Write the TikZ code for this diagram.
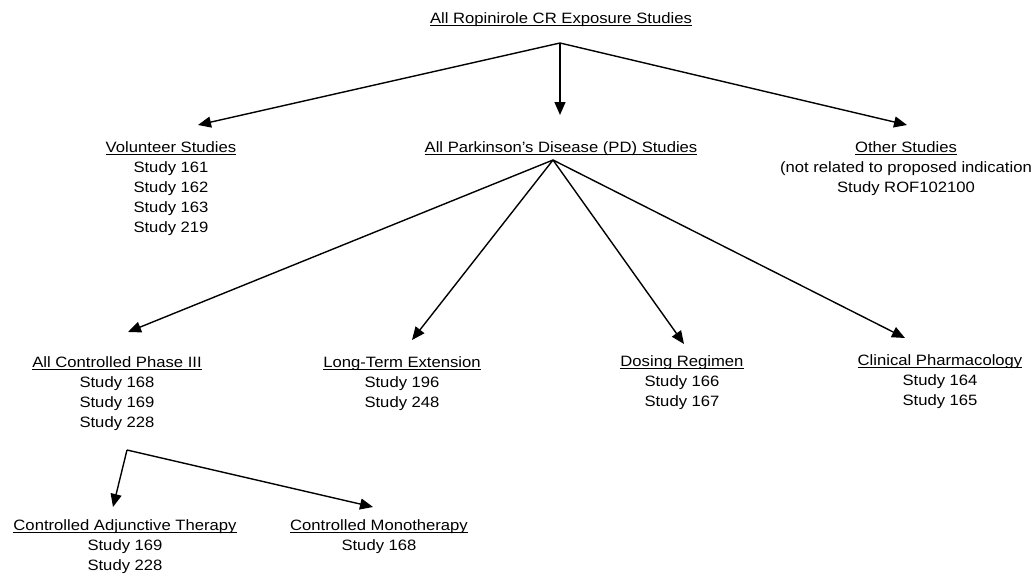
\documentclass[tikz,border=0pt]{standalone}
\usepackage{fontspec}
\setmainfont[FakeStretch=1.11]{Liberation Sans}
\usetikzlibrary{arrows.meta}
\newcommand\hdr[1]{\setbox0\hbox{#1}\rlap{\vrule width\wd0 height -1.6pt depth 2.6pt}\box0}
\begin{document}
\begin{tikzpicture}[x=1pt,y=-1pt,
  blk/.style={anchor=north,align=center,inner sep=0pt,font=\fontsize{15}{20}\selectfont},
  arr/.style={-{Triangle[length=13pt,width=11pt]},line width=1.4pt}]
\useasboundingbox[fill=white] (0,0) rectangle (1034,578);
% nodes
\node[blk] (title) at (561,12) {\hdr{All Ropinirole CR Exposure Studies}};
\node[blk] (vol) at (171,141.5) {\hdr{Volunteer Studies}\\Study 161\\Study 162\\Study 163\\Study 219};
\node[blk] (pd) at (561,141.5) {\hdr{All Parkinson's Disease (PD) Studies}};
\node[blk] (oth) at (906,141.5) {\hdr{Other Studies}\\(not related to proposed indication\\Study ROF102100};
\node[blk] (ph3) at (117,356) {\hdr{All Controlled Phase III}\\Study 168\\Study 169\\Study 228};
\node[blk] (lte) at (402,356) {\hdr{Long-Term Extension}\\Study 196\\Study 248};
\node[blk] (dos) at (682,355) {\hdr{Dosing Regimen}\\Study 166\\Study 167};
\node[blk] (cph) at (940,354) {\hdr{Clinical Pharmacology}\\Study 164\\Study 165};
\node[blk] (adj) at (125,519) {\hdr{Controlled Adjunctive Therapy}\\Study 169\\Study 228};
\node[blk] (mono) at (379,519) {\hdr{Controlled Monotherapy}\\Study 168};
% branch points
\coordinate (a0) at (560,43);
\coordinate (a1) at (553,160);
\coordinate (a2) at (127,450);
% connectors
\draw[arr] (a0) -- ([xshift=27pt,yshift=16.5pt]vol.north);
\draw[arr] (a0) -- ([xshift=-1pt,yshift=26.5pt]pd.north);
\draw[arr] (a0) -- ([xshift=1pt,yshift=16.5pt]oth.north);
\draw[arr] (a1) -- ([xshift=11pt,yshift=24pt]ph3.north);
\draw[arr] (a1) -- ([xshift=10pt,yshift=16pt]lte.north);
\draw[arr] (a1) -- ([xshift=2pt,yshift=11pt]dos.north);
\draw[arr] (a1) -- ([xshift=-35pt,yshift=16pt]cph.north);
\draw[arr] (a2) -- ([xshift=-12pt,yshift=12pt]adj.north);
\draw[arr] (a2) -- ([xshift=-6pt,yshift=12pt]mono.north);
\end{tikzpicture}
\end{document}
